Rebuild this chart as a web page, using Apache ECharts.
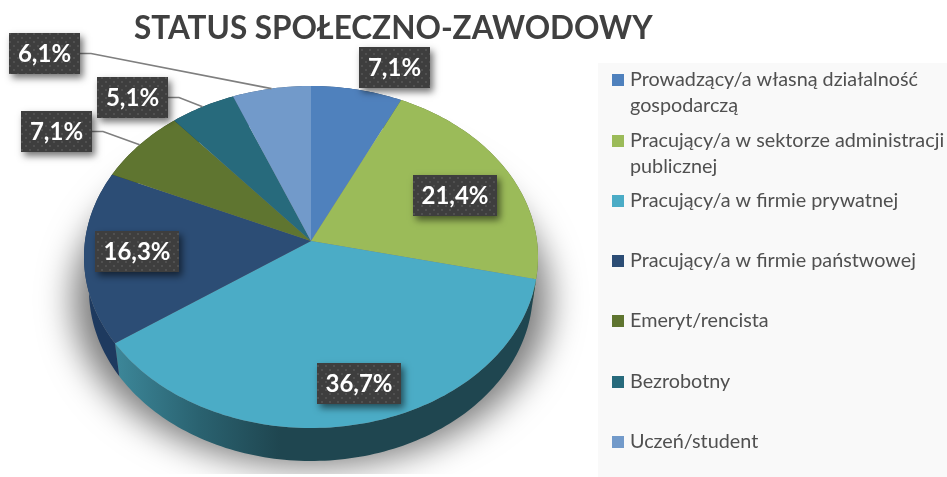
<!DOCTYPE html>
<html>
<head>
<meta charset="utf-8">
<style>html,body{margin:0;padding:0;background:#fff}#c{width:947px;height:477px}</style>
<script src="https://cdn.jsdelivr.net/npm/echarts@6/dist/echarts.min.js"></script>
</head>
<body>
<div id="c"></div>
<script>
// ---- data ----
const chartTitle = 'STATUS SPOŁECZNO-ZAWODOWY';
const categories = [
  'Prowadzący/a własną działalność gospodarczą',
  'Pracujący/a w sektorze administracji publicznej',
  'Pracujący/a w firmie prywatnej',
  'Pracujący/a w firmie państwowej',
  'Emeryt/rencista',
  'Bezrobotny',
  'Uczeń/student'
];
const shares = [7.1, 21.4, 36.7, 16.3, 7.1, 5.1, 6.1];

// ---- styles and layout ----
const topColors = ['#4f81bd', '#9bbb59', '#4bacc6', '#2c4d75', '#5f7530', '#276a7c', '#729aca'];
const sideColors = ['#2f4d71', '#5d7035', '#1f4650', '#1e3a5f', '#39461d', '#173f4a', '#445c79'];
const labelBoxX = [359, 413, 317, 95, 21, 97, 9];
const labelBoxY = [47, 175, 363, 231, 111, 77, 33];
const leaderSlices = [4, 5, 6];
const legendRowY = [67, 128, 188, 248, 308, 369, 429];
const APEX_X = 311, APEX_Y = 241, DISC_X = 226, DISC_Y = 169.5, TILT = -0.0936;
const DEPTH = 33, DEPTH_X = 0.978;

const total = shares.reduce((a, b) => a + b, 0);
const startOf = shares.map((_, i) => shares.slice(0, i).reduce((a, b) => a + b, 0));

function project(pct, lift) {
  const t = 2 * Math.PI * pct / total;
  const u = Math.sin(t), v = -Math.cos(t), d = 1 + TILT * v;
  const k = lift ? DEPTH_X : 1;
  return [APEX_X + k * DISC_X * u / d, APEX_Y + DISC_Y * v / d + (lift ? DEPTH : 0)];
}
function arc(from, to, lift) {
  const n = Math.max(4, Math.ceil((to - from) * 3)), pts = [];
  for (let j = 0; j <= n; j++) pts.push(project(from + (to - from) * j / n, lift));
  return pts;
}
function dotPattern() {
  const c = document.createElement('canvas');
  c.width = 8; c.height = 8;
  const g = c.getContext('2d');
  g.fillStyle = '#3e3e3e'; g.fillRect(0, 0, 8, 8);
  g.fillStyle = '#505050';
  g.fillRect(1, 1, 2, 2); g.fillRect(5, 5, 2, 2);
  return { image: c, repeat: 'repeat' };
}
const pattern = dotPattern();
const sideFill = new echarts.graphic.LinearGradient(118, 0, 280, 0, [
  { offset: 0, color: '#3c8698' }, { offset: 0.5, color: '#2a6270' }, { offset: 1, color: '#1f4650' }
], true);

const legendWrap = n => n.replace(' gospodarczą', '\ngospodarczą').replace(' publicznej', '\npublicznej');
const legends = categories.map((name, i) => {
  const two = legendWrap(name) !== name;
  return {
    left: 612, top: legendRowY[i], padding: 0, orient: 'vertical', selectedMode: false,
    itemWidth: 12, itemHeight: two ? 38 : 12,
    data: [{ name, icon: two ? 'path://M0 0H12V12H0Z M11.99 37.99H12V38H11.99Z' : 'rect' }],
    formatter: legendWrap,
    textStyle: { fontFamily: 'Lato', fontSize: 19.8, color: '#505050', lineHeight: 26, padding: [0, 0, 0, 1] }
  };
});

const series = [];
const SHADOW_SHIFT = 2000;
series.push({
  type: 'custom', name: 'cień', coordinateSystem: 'none', z: 1, silent: true,
  data: [[total]],
  renderItem: () => ({
    type: 'ellipse', shape: { cx: 311 - SHADOW_SHIFT, cy: 300, rx: 238, ry: 166 },
    clipPath: { type: 'rect', shape: { x: 0, y: 0, width: 947, height: 474 } },
    style: { fill: '#000', shadowColor: 'rgba(0,0,0,0.52)', shadowBlur: 34, shadowOffsetX: SHADOW_SHIFT, shadowOffsetY: 0 }
  })
});
series.push({
  type: 'custom', name: 'bok', coordinateSystem: 'none', z: 2, silent: true,
  data: shares.map(v => [v]),
  renderItem: (params, api) => {
    const i = params.dataIndex, a = startOf[i], b = a + api.value(0);
    const pts = arc(a, b, false).concat(arc(a, b, true).reverse());
    return { type: 'polygon', shape: { points: pts },
      style: { fill: i === 2 ? sideFill : sideColors[i] } };
  }
});
categories.forEach((name, i) => {
  series.push({
    type: 'custom', name, coordinateSystem: 'none', z: 3, silent: true,
    itemStyle: { color: topColors[i] },
    data: [[shares[i]]],
    renderItem: (params, api) => {
      const a = startOf[i], b = a + api.value(0);
      return { type: 'polygon', shape: { points: [[APEX_X, APEX_Y]].concat(arc(a, b, false)) },
        style: { fill: topColors[i] } };
    }
  });
});
series.push({
  type: 'custom', name: 'etykiety', coordinateSystem: 'none', z: 5, silent: true,
  data: shares.map(v => [v]),
  renderItem: (params, api) => {
    const i = params.dataIndex, v = api.value(0);
    const text = v.toFixed(1).replace('.', ',') + '%';
    const w = text.length > 4 ? 84 : 71, h = 41, x = labelBoxX[i], y = labelBoxY[i];
    const kids = [];
    if (leaderSlices.indexOf(i) >= 0) {
      const end = project(startOf[i] + v / 2, false);
      kids.push({ type: 'polyline',
        shape: { points: [[x + w, y + h / 2], [x + w + 11, y + h / 2], end] },
        style: { fill: null, stroke: '#7f7f7f', lineWidth: 1.6 } });
    }
    kids.push({ type: 'rect', shape: { x, y, width: w, height: h },
      style: { fill: '#3e3e3e', shadowColor: 'rgba(0,0,0,0.55)', shadowBlur: 7, shadowOffsetX: 3, shadowOffsetY: 4 } });
    kids.push({ type: 'rect', shape: { x, y, width: w, height: h }, style: { fill: pattern } });
    kids.push({ type: 'text', style: { x: x + w / 2, y: y + h / 2 + 1, text, align: 'center', verticalAlign: 'middle',
      fill: '#ffffff', font: 'bold 24px Lato' } });
    return { type: 'group', children: kids };
  }
});

const chart = echarts.init(document.getElementById('c'), null, { renderer: 'canvas' });
chart.setOption({
  animation: false,
  backgroundColor: '#ffffff',
  title: { text: chartTitle, left: 134, top: 13, padding: 0,
    textStyle: { fontFamily: 'Lato', fontWeight: 'bold', fontSize: 31.5, color: '#404040' } },
  graphic: [{ type: 'rect', z: -10, silent: true, shape: { x: 598, y: 63, width: 349, height: 414 }, style: { fill: '#f9f9f9' } }],
  legend: legends,
  series
});
</script>
</body>
</html>
